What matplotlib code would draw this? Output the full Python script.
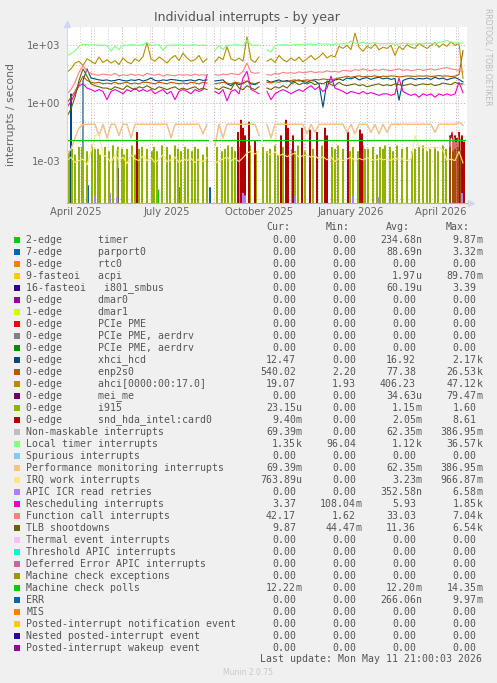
import numpy as np
import matplotlib
matplotlib.use('Agg')
import matplotlib.pyplot as plt
from matplotlib.patches import Rectangle

nan = np.nan

# time axis: 400 days ending at last update
start = np.datetime64('2025-04-06T21:00')
n_days = 400
step = 4

# smoother series, one value every 4 days
local_timer = [280, 380, 520, 900, 1150, 1100, 1050, 1100, 1000, 1050,
               1000, 500, 950, 600, 1050, 1000, 1100, 1050, 1000, 1100,
               1400, 1000, 1050, 1100, 550, 1000, 1050, 1000, 1100, 1050,
               1000, 1050, 1100, 1000, 1050, 1000, nan, 550, 1000, 600,
               1050, 1000, 1100, 1050, 1000, 1900, 1050, 1000, 1050, nan,
               600, 450, 1000, 1050, 1100, 1050, 1000, 1100, 1050, 1150,
               1150, 1200, 1100, 1250, 1150, 1200, 1100, 1200, 1150, 1250,
               1200, 1700, 1300, 1250, 1500, 1200, 1300, 1400, 1200, 1250,
               1200, 1250, 1150, 1200, 1250, 1300, 1150, 1200, 1250, 1200,
               1300, 1250, 1200, 1400, 1600, 1800, 1500, 1350, 1300, 1350]

ahci = [40, 60, 120, 150, 90, 200, 150, 110, 250, 130,
        180, 120, 160, 100, 220, 140, 110, 200, 150, 260,
        1400, 200, 150, 250, 180, 120, 210, 300, 160, 400,
        220, 150, 180, 300, 130, 200, nan, 140, 250, 180,
        850, 200, 160, 220, 150, 2800, 180, 130, 250, nan,
        150, 200, 130, 300, 180, 140, 220, 160, 250, 140,
        200, 300, 180, 250, 400, 220, 300, 250, 900, 700,
        1000, 600, 4300, 800, 500, 900, 700, 1200, 600, 800,
        700, 1000, 300, 900, 600, 1100, 800, 700, 1300, 900,
        700, 1000, 1400, 800, 1200, 900, 1500, 1000, 1300, 19]

enp2s0 = [1, 2, 4, 10, 25, 15, 12, 11, 12, 10,
          11, 10, 12, 10, 11, 12, 10, 11, 10, 12,
          12, 11, 10, 12, 11, 10, 12, 11, 10, 11,
          10, 12, 11, 10, 12, 11, nan, 10, 11, 12,
          11, 10, 12, 11, 10, 14, 11, 10, 12, nan,
          12, 11, 13, 12, 14, 13, 15, 16, 14, 15,
          16, 15, 17, 16, 18, 17, 16, 18, 20, 22,
          25, 22, 24, 26, 23, 25, 24, 26, 23, 25,
          24, 26, 25, 23, 24, 26, 25, 24, 26, 25,
          26, 24, 25, 27, 25, 26, 24, 25, 30, 540]

xhci = [0, 3, 0, 0, 15, 60, 20, 18, 16, 15,
        16, 14, 15, 17, 15, 14, 16, 15, 17, 14,
        16, 20, 15, 14, 16, 15, 17, 16, 15, 14,
        15, 16, 14, 17, 15, 16, nan, 14, 15, 16,
        10, 8, 12, 9, 11, 14, 10, 9, 12, nan,
        15, 12, 14, 16, 13, 15, 12, 14, 16, 13,
        12, 15, 14, 10, 0.6, 14, 12, 16, 18, 15,
        20, 18, 22, 16, 19, 21, 17, 20, 22, 18,
        20, 17, 19, 1.4, 15, 18, 20, 17, 19, 18,
        20, 17, 22, 18, 20, 16, 19, 21, 17, 12.5]

function_call = [3, 5, 12, 40, 90, 45, 35, 30, 28, 32,
                 30, 28, 35, 25, 30, 27, 32, 28, 30, 26,
                 35, 30, 28, 32, 25, 30, 28, 26, 30, 28,
                 30, 27, 32, 28, 30, 26, nan, 30, 28, 32,
                 30, 35, 32, 30, 45, 120, 40, 35, 38, nan,
                 30, 28, 35, 32, 40, 36, 38, 35, 42, 38,
                 40, 45, 38, 42, 40, 48, 42, 45, 40, 50,
                 48, 45, 55, 50, 60, 52, 48, 55, 50, 58,
                 52, 48, 55, 60, 50, 55, 48, 52, 58, 50,
                 55, 60, 52, 58, 65, 70, 60, 55, 50, 42]

tlb = [0.2, 0.5, 2, 15, 60, 25, 10, 8, 7, 6,
       6, 5, 7, 6, 5, 8, 6, 5, 7, 6,
       8, 6, 5, 7, 6, 5, 6, 7, 5, 6,
       5, 6, 7, 5, 6, 5, nan, 6, 5, 7,
       6, 5, 12, 6, 5, 8, 6, 5, 7, nan,
       6, 5, 7, 6, 8, 6, 10, 12, 9, 11,
       10, 12, 9, 11, 10, 13, 9, 8, 12, 9,
       8, 9, 10, 8, 9, 7, 8, 9, 10, 8,
       9, 8, 10, 9, 8, 9, 10, 8, 9, 10,
       9, 10, 8, 9, 11, 10, 9, 12, 10, 9.9]

resched = [0.6, 1.2, 3, 8, 10, 6, 5, 4, 5, 4,
           1.5, 4, 5, 4, 3, 5, 4, 6, 4, 5,
           4, 5, 3, 4, 5, 3, 4, 1.5, 4, 5,
           4, 3, 5, 4, 5, 30, nan, 4, 3, 5,
           1.3, 4, 5, 3, 20, 45, 5, 4, 3, nan,
           4, 1.5, 3, 4, 5, 4, 3, 4, 5, 4,
           6, 8, 5, 7, 4, 6, 25, 6, 5, 4,
           3, 4, 3.5, 3, 4, 3, 3.5, 3, 2.5, 3,
           3, 2.5, 3, 20, 4, 3, 2.5, 3, 2, 3,
           2.5, 3, 2, 3, 2.5, 3, 2.5, 3, 12, 3.4]

perf_mon = [0.002, 0.004, 0.015, 0.05, 0.075, 0.078, 0.078, 0.078, 0.02, 0.078,
            0.015, 0.078, 0.078, 0.02, 0.078, 0.078, 0.015, 0.078, 0.078, 0.078,
            0.078, 0.078, 0.078, 0.078, 0.078, 0.078, 0.015, 0.078, 0.078, 0.078,
            0.078, 0.078, 0.078, 0.078, 0.025, 0.078, nan, 0.006, 0.078, 0.015,
            0.078, 0.078, 0.078, 0.078, 0.078, 0.078, 0.078, 0.078, 0.02, nan,
            0.078, 0.015, 0.078, 0.078, 0.078, 0.078, 0.078, 0.078, 0.078, 0.078,
            0.025, 0.078, 0.03, 0.078, 0.078, 0.078, 0.078, 0.078, 0.078, 0.078,
            0.03, 0.078, 0.025, 0.078, 0.078, 0.078, 0.03, 0.078, 0.025, 0.078,
            0.03, 0.078, 0.078, 0.078, 0.078, 0.078, 0.078, 0.078, 0.078, 0.078,
            0.078, 0.078, 0.03, 0.078, 0.078, 0.078, 0.078, 0.078, 0.1, 0.069]

irq_work = [0.001, 0.0015, 0.0008, 0.001, 0.0012, 0.0006, 0.003, 0.02, 0.025, 0.002,
            0.0015, 0.0008, 0.002, 0.001, 0.0015, 0.0007, 0.002, 0.0012, 0.001, 0.0018,
            0.001, 0.0014, 0.0008, 0.0012, 0.002, 0.0009, 0.0011, 0.0015, 0.0008, 0.0012,
            0.001, 0.0013, 0.0008, 0.0012, 0.0009, 0.0014, nan, 0.0007, 0.001, 0.0012,
            0.0015, 0.001, 0.0013, 0.0009, 0.0014, 0.0025, 0.003, 0.0022, 0.003, nan,
            0.0025, 0.002, 0.0028, 0.0018, 0.0022, 0.0016, 0.002, 0.0025, 0.0015, 0.0018,
            0.002, 0.0015, 0.0018, 0.0012, 0.0016, 0.0011, 0.0015, 0.0009, 0.0013, 0.001,
            0.0012, 0.0015, 0.001, 0.0013, 0.0011, 0.0014, 0.0012, 0.001, 0.0013, 0.0011,
            0.0012, 0.001, 0.0014, 0.0011, 0.0013, 0.001, 0.0012, 0.02, 0.006, 0.005,
            0.004, 0.005, 0.0045, 0.005, 0.0035, 0.001, 0.0012, 0.001, 0.003, 0.00076]

# flat machine check polls line with two gaps
mcp_days = [0, 141, 142, 146, 193, 194, 196, 398]
mcp_vals = [0.0122, 0.0122, nan, 0.0122, 0.0122, nan, 0.0122, 0.0122]

# spiky series: day index -> value, zero elsewhere
i915_days = [2, 5, 8, 12, 15, 20, 25, 28, 31, 33,
             38, 42, 46, 50, 51, 55, 57, 60, 65, 68,
             72, 75, 80, 85, 87, 90, 95, 100, 103, 108,
             111, 114, 118, 121, 125, 128, 131, 136, 140, 150,
             155, 158, 161, 165, 168, 173, 178, 183, 189, 196,
             200, 203, 208, 211, 216, 220, 225, 228, 231, 238,
             243, 246, 250, 255, 260, 265, 268, 271, 276, 283,
             286, 291, 296, 298, 301, 306, 310, 313, 316, 318,
             323, 326, 330, 335, 340, 345, 348, 352, 356, 360,
             363, 368, 371, 376, 379, 383, 386, 388, 391, 393, 396]
i915_vals = [0.003, 0.004, 0.002, 0.005, 0.005, 0.003, 0.006, 0.004, 0.004, 0.002,
             0.005, 0.003, 0.006, 0.003, 0.005, 0.004, 0.002, 0.004, 0.006, 0.002,
             0.004, 0.005, 0.004, 0.003, 0.005, 0.003, 0.006, 0.005, 0.002, 0.006,
             0.004, 0.003, 0.005, 0.004, 0.003, 0.005, 0.004, 0.002, 0.005, 0.005,
             0.003, 0.004, 0.006, 0.005, 0.003, 0.005, 0.004, 0.006, 0.003, 0.005,
             0.003, 0.004, 0.006, 0.002, 0.005, 0.005, 0.004, 0.003, 0.006, 0.003,
             0.005, 0.004, 0.004, 0.006, 0.002, 0.005, 0.004, 0.006, 0.004, 0.003,
             0.005, 0.003, 0.006, 0.004, 0.004, 0.005, 0.002, 0.005, 0.004, 0.006,
             0.005, 0.003, 0.006, 0.004, 0.005, 0.003, 0.004, 0.005, 0.006, 0.003,
             0.004, 0.005, 0.003, 0.006, 0.004, 0.005, 0.003, 0.004, 0.005, 0.003, 0.002]

snd_days = [70, 171, 174, 176, 178, 182, 188, 214, 219, 221, 226, 235, 243, 250,
            258, 260, 281, 293, 295, 383, 384, 385, 386, 388, 389, 390, 392, 393,
            395, 397]
snd_vals = [0.03, 0.03, 0.13, 0.05, 0.02, 0.1, 0.01, 0.02, 0.13, 0.05, 0.02, 0.05,
            0.04, 0.03, 0.05, 0.02, 0.03, 0.04, 0.025, 0.02, 0.015, 0.03, 0.012,
            0.02, 0.01, 0.015, 0.03, 0.01, 0.02, 0.0094]

mei_days = [5, 20, 33, 46, 51, 65, 68, 95, 108, 111, 131, 150, 161, 174, 176, 200,
            211, 231, 250, 265, 276, 301, 313, 335, 356, 371, 388]
mei_vals = [3e-4, 2e-4, 2.5e-4, 5e-4, 4e-4, 6e-4, 3e-4, 2e-4, 3e-4, 5e-4, 2e-4,
            3e-4, 4e-4, 8e-4, 1e-3, 3e-4, 2e-4, 4e-4, 3e-4, 2e-4, 3e-4, 4e-4,
            2e-4, 3e-4, 2e-4, 3e-4, 4e-4]

apic_days = [28, 43, 50, 176, 178, 228, 286, 311, 395]
apic_vals = [1.5e-5, 2e-5, 1.2e-5, 2e-5, 1.5e-5, 1.3e-5, 1.5e-5, 1.2e-5, 2e-5]

timer_days = [91, 112]
timer_vals = [3e-5, 4e-5]
parport_days = [5, 21, 143, 250]
parport_vals = [8e-5, 5e-5, 4e-5, 3e-5]

# legend table
names = ['2-edge      timer', '7-edge      parport0', '8-edge      rtc0',
         '9-fasteoi   acpi', '16-fasteoi   i801_smbus', '0-edge      dmar0',
         '1-edge      dmar1', '0-edge      PCIe PME', '0-edge      PCIe PME, aerdrv',
         '0-edge      PCIe PME, aerdrv', '0-edge      xhci_hcd', '0-edge      enp2s0',
         '0-edge      ahci[0000:00:17.0]', '0-edge      mei_me', '0-edge      i915',
         '0-edge      snd_hda_intel:card0', 'Non-maskable interrupts',
         'Local timer interrupts', 'Spurious interrupts',
         'Performance monitoring interrupts', 'IRQ work interrupts',
         'APIC ICR read retries', 'Rescheduling interrupts',
         'Function call interrupts', 'TLB shootdowns', 'Thermal event interrupts',
         'Threshold APIC interrupts', 'Deferred Error APIC interrupts',
         'Machine check exceptions', 'Machine check polls', 'ERR', 'MIS',
         'Posted-interrupt notification event', 'Nested posted-interrupt event',
         'Posted-interrupt wakeup event']
colors = ['#00CC00', '#0066B3', '#FF8000', '#FFCC00', '#330099', '#990099',
          '#CCFF00', '#FF0000', '#808080', '#008F00', '#00487D', '#B35A00',
          '#B38F00', '#6B006B', '#8FB300', '#B30000', '#BEBEBE', '#80FF80',
          '#80C9FF', '#FFC080', '#FFE680', '#AA80FF', '#EE00CC', '#FF8080',
          '#666600', '#FFBFFF', '#00FFCC', '#CC6699', '#999900', '#00CC00',
          '#0066B3', '#FF8000', '#FFCC00', '#330099', '#990099']
cur = ['0.00', '0.00', '0.00', '0.00', '0.00', '0.00', '0.00', '0.00', '0.00',
       '0.00', '12.47', '540.02', '19.07', '0.00', '23.15u', '9.40m', '69.39m',
       '1.35k', '0.00', '69.39m', '763.89u', '0.00', '3.37', '42.17', '9.87',
       '0.00', '0.00', '0.00', '0.00', '12.22m', '0.00', '0.00', '0.00', '0.00',
       '0.00']
mins = ['0.00', '0.00', '0.00', '0.00', '0.00', '0.00', '0.00', '0.00', '0.00',
        '0.00', '0.00', '2.20', '1.93', '0.00', '0.00', '0.00', '0.00', '96.04',
        '0.00', '0.00', '0.00', '0.00', '108.04m', '1.62', '44.47m', '0.00',
        '0.00', '0.00', '0.00', '0.00', '0.00', '0.00', '0.00', '0.00', '0.00']
avgs = ['234.68n', '88.69n', '0.00', '1.97u', '60.19u', '0.00', '0.00', '0.00',
        '0.00', '0.00', '16.92', '77.38', '406.23', '34.63u', '1.15m', '2.05m',
        '62.35m', '1.12k', '0.00', '62.35m', '3.23m', '352.58n', '5.93', '33.03',
        '11.36', '0.00', '0.00', '0.00', '0.00', '12.20m', '266.06n', '0.00',
        '0.00', '0.00', '0.00']
maxs = ['9.87m', '3.32m', '0.00', '89.70m', '3.39', '0.00', '0.00', '0.00', '0.00',
        '0.00', '2.17k', '26.53k', '47.12k', '79.47m', '1.60', '8.61', '386.95m',
        '36.57k', '0.00', '386.95m', '966.87m', '6.58m', '1.85k', '7.04k', '6.54k',
        '0.00', '0.00', '0.00', '0.00', '14.35m', '9.97m', '0.00', '0.00', '0.00',
        '0.00']


def spikes(days, vals):
    y = np.zeros(n_days)
    y[days] = vals
    return y


W, H = 497, 683


def fx(x):
    return x / W


def fy(y):
    return 1 - y / H


TXT = '#666666'
plt.rcParams['font.family'] = 'DejaVu Sans'

fig = plt.figure(figsize=(W / 100, H / 100), dpi=100, facecolor='#F0F0F0')
ax = fig.add_axes([fx(67), fy(203), 400 / W, 176 / H])
ax.set_facecolor('white')
ax.set_yscale('log', nonpositive='clip')

t4 = start + (np.arange(0, n_days, step) * 24 * 60).astype('timedelta64[m]')
t1 = start + (np.arange(n_days) * 24 * 60).astype('timedelta64[m]')
tmcp = start + (np.array(mcp_days) * 24 * 60).astype('timedelta64[m]')
end = start + np.timedelta64(n_days * 24 * 60, 'm')

# grid
for dec in range(-5, 4):
    major = dec % 3 == 0
    ax.axhline(10.0 ** dec, color='#E8A0A0' if major else '#C8C8C8',
               lw=0.7, ls=(0, (1, 2)), zorder=0)
for m in np.arange('2025-05', '2026-06', dtype='datetime64[M]'):
    ax.axvline(m.astype('datetime64[m]'), color='#E8A0A0', lw=0.7,
               ls=(0, (1, 2)), zorder=0)
for w in np.arange(np.datetime64('2025-04-20'), np.datetime64('2026-05-11'),
                   np.timedelta64(14, 'D')):
    ax.axvline(w.astype('datetime64[m]'), color='#C8C8C8', lw=0.7,
               ls=(0, (1, 2)), zorder=0)

lw = 0.8
ax.plot(t1, spikes(timer_days, timer_vals), color='#00CC00', lw=lw)
ax.plot(t1, spikes(parport_days, parport_vals), color='#0066B3', lw=lw)
ax.plot(t4, xhci, color='#00487D', lw=lw)
ax.plot(t4, enp2s0, color='#B35A00', lw=lw)
ax.plot(t4, ahci, color='#B38F00', lw=lw)
ax.plot(t1, spikes(mei_days, mei_vals), color='#6B006B', lw=lw)
ax.plot(t1, spikes(i915_days, i915_vals), color='#8FB300', lw=lw)
ax.plot(t1, spikes(snd_days, snd_vals), color='#B30000', lw=lw)
ax.plot(t4, perf_mon, color='#BEBEBE', lw=lw)
ax.plot(t4, local_timer, color='#80FF80', lw=lw)
ax.plot(t4, perf_mon, color='#FFC080', lw=lw)
ax.plot(t4, irq_work, color='#FFE680', lw=lw)
ax.plot(t1, spikes(apic_days, apic_vals), color='#AA80FF', lw=lw)
ax.plot(t4, resched, color='#EE00CC', lw=lw)
ax.plot(t4, function_call, color='#FF8080', lw=lw)
ax.plot(t4, tlb, color='#666600', lw=lw)
ax.plot(tmcp, mcp_vals, color='#00CC00', lw=lw)

ax.set_xlim(start, end)
ax.set_ylim(6.2e-6, 9.1e3)
ax.set_yticks([1e-3, 1, 1e3])
ax.set_yticklabels(['1e-03', '1e+00', '1e+03'])
ax.minorticks_off()
ax.set_yticks([], minor=True)
lbl_months = np.array(['2025-04', '2025-07', '2025-10', '2026-01', '2026-04'],
                      dtype='datetime64[M]')
ax.set_xticks(lbl_months.astype('datetime64[m]') + np.timedelta64(15 * 24 * 60, 'm'))
ax.set_xticklabels(['April 2025', 'July 2025', 'October 2025', 'January 2026',
                    'April 2026'])
ax.tick_params(axis='both', length=0, colors=TXT, labelsize=7.2)
ax.tick_params(axis='y', pad=5)
ax.tick_params(axis='x', pad=3)
for s in ['top', 'right']:
    ax.spines[s].set_visible(False)
ax.spines['left'].set_color('#CFD6F8')
ax.spines['bottom'].set_color('#B8A4F4')
ax.plot([0], [1 + 3 / 176], marker='^', ms=4, color='#CFD6F8',
        transform=ax.transAxes, clip_on=False)
ax.plot([1 + 4 / 400], [0], marker='>', ms=4, color='#CFD6F8',
        transform=ax.transAxes, clip_on=False)

fig.text(fx(247), fy(18), 'Individual interrupts - by year', ha='center',
         va='center', fontsize=9, color='#555555')
fig.text(fx(11), fy(115), 'interrupts / second', rotation=90, ha='center',
         va='center', fontsize=7.8, color=TXT)
fig.text(fx(488), fy(57), 'RRDTOOL / TOBI OETIKER', rotation=270, ha='center',
         va='center', fontsize=5.5, color='#BBBBBB')

# legend table
mono = 'DejaVu Sans Mono'
fs = 7.1
LC = '#555555'
for x_r, head in zip([290, 350, 410, 470], ['Cur:', 'Min:', 'Avg:', 'Max:']):
    fig.text(fx(x_r), fy(227.5), head, ha='right', va='center', family=mono,
             fontsize=fs, color=LC)

num_right = [296, 356, 416, 476.5]
for i, name in enumerate(names):
    y = 239.7 + 12 * i
    fig.add_artist(Rectangle((fx(14), fy(y + 2.8)), 5.6 / W, 5.6 / H,
                             transform=fig.transFigure, facecolor=colors[i],
                             edgecolor='none'))
    fig.text(fx(26.3), fy(y), name, ha='left', va='center', family=mono,
             fontsize=fs, color=LC)
    for xr, s in zip(num_right, [cur[i], mins[i], avgs[i], maxs[i]]):
        if s[-1].isalpha():
            num, suf = s[:-1], s[-1]
        else:
            num, suf = s, ''
        fig.text(fx(xr), fy(y), num, ha='right', va='center', family=mono,
                 fontsize=fs, color=LC)
        if suf:
            fig.text(fx(xr), fy(y), suf, ha='left', va='center', family=mono,
                     fontsize=fs, color=LC)

fig.text(fx(482.5), fy(659.3), 'Last update: Mon May 11 21:00:03 2026',
         ha='right', va='center', family=mono, fontsize=fs, color=LC)
fig.text(fx(248), fy(672.5), 'Munin 2.0.75', ha='center', va='center',
         fontsize=5.5, color='#C8C8C8')

fig.savefig('out.png', dpi=100, facecolor=fig.get_facecolor())
